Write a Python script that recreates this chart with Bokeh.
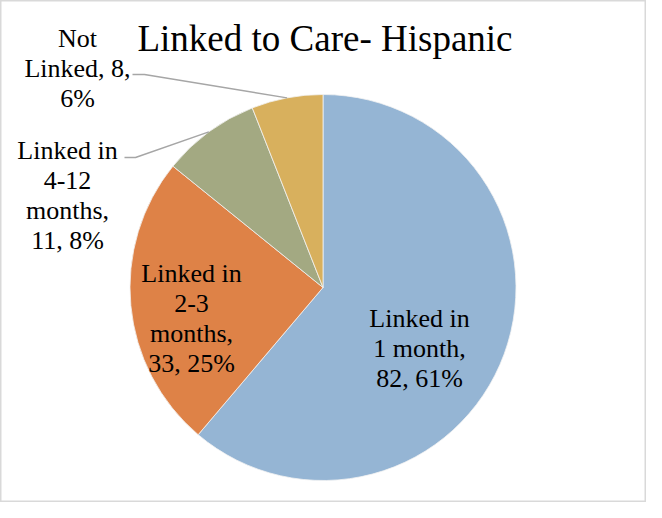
import math
from bokeh.plotting import figure
from bokeh.models import Range1d, ColumnDataSource, Label
from bokeh.embed import file_html
from bokeh.resources import INLINE

# ---- data ----
title = "Linked to Care- Hispanic"
categories = ["Linked in 1 month", "Linked in 2-3 months", "Linked in 4-12 months", "Not Linked"]
counts = [82, 33, 11, 8]
colors = ["#95B5D4", "#DE8247", "#A3A982", "#D8B05D"]

# ---- layout ----
W, H = 646, 502
cx, cy, R = 322.5, 215.0, 193.0
FONT = "Liberation Serif"

total = sum(counts)
pcts = [round(c / total * 100) for c in counts]

p = figure(width=W, height=H, output_backend="svg", toolbar_location=None,
           x_range=Range1d(0, W), y_range=Range1d(0, H),
           x_axis_location=None, y_axis_location=None,
           min_border=0, min_border_left=0, min_border_right=0,
           min_border_top=0, min_border_bottom=0)
p.grid.visible = False
p.outline_line_color = "#D9D9D9"
p.outline_line_width = 2
p.background_fill_color = "white"
p.border_fill_color = "white"

# wedges, clockwise from 12 o'clock
starts, ends, mids = [], [], []
cum = 0
for c in counts:
    a0 = math.pi / 2 - 2 * math.pi * cum / total
    a1 = math.pi / 2 - 2 * math.pi * (cum + c) / total
    starts.append(a0)
    ends.append(a1)
    mids.append((a0 + a1) / 2)
    cum += c

src = ColumnDataSource(dict(start=starts, end=ends, color=colors, cat=categories))
p.wedge(x=cx, y=cy, radius=R, start_angle="start", end_angle="end",
        direction="clock", fill_color="color", line_color="#F2F2F2",
        line_width=0.8, source=src)

# labels (one Label per line)
wrapped = {
    "Linked in 1 month": ["Linked in", "1 month,"],
    "Linked in 2-3 months": ["Linked in", "2-3", "months,"],
    "Linked in 4-12 months": ["Linked in", "4-12", "months,"],
    "Not Linked": ["Not", "Linked, {c},"],
}
label_pos = [(419, 154), (191, 184.5), (67, 307.5), (77, 434)]
LINE = 30.0
for (lx, ly), cat, c, pc in zip(label_pos, categories, counts, pcts):
    lines = [l.format(c=c) for l in wrapped[cat]]
    lines.append(f"{pc}%" if cat == "Not Linked" else f"{c}, {pc}%")
    n = len(lines)
    for i, t in enumerate(lines):
        yy = ly + (n - 1) / 2 * LINE - i * LINE
        p.add_layout(Label(x=lx, y=yy, text=t, text_font=FONT, text_font_size="26px",
                           text_align="center", text_baseline="middle",
                           text_color="#000000"))

# leader lines for outside labels
leader_starts = {2: (124, 345, 135), 3: (132, 428, 144)}
for idx, (x0, y0, x1) in leader_starts.items():
    ex = cx + R * math.cos(mids[idx])
    ey = cy + R * math.sin(mids[idx])
    p.line(x=[x0, x1, ex], y=[y0, y0, ey], line_color="#A6A6A6", line_width=1.5)

# title
p.add_layout(Label(x=324.5, y=464, text=title, text_font=FONT,
                   text_font_size="37px", text_align="center", text_baseline="middle",
                   text_color="#000000"))

open("out.html", "w").write(file_html(p, INLINE))
